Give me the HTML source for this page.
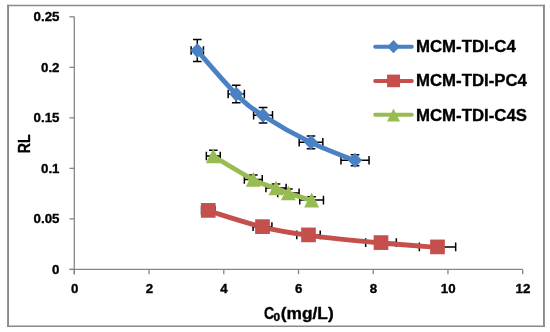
<!DOCTYPE html>
<html><head><meta charset="utf-8"><style>
html,body{margin:0;padding:0;background:#fff;}
body{width:550px;height:332px;overflow:hidden;font-family:"Liberation Sans",sans-serif;}
svg{display:block;}
svg{will-change:transform;}
text{stroke:#000;stroke-width:0.35px;stroke-linejoin:round;}
</style></head><body>
<svg width="550" height="332" viewBox="0 0 550 332">
<g stroke="#8a8a8a" fill="none"><path d="M8.05,4.8V327.1M543.95,4.8V327.1" stroke-width="1.9"/><path d="M7.1,5.55H544.9M7.1,326.35H544.9" stroke-width="1.5"/></g>
<g stroke="#868686" stroke-width="1.3" fill="none"><path d="M74.30,16.80V274.20" /><path d="M69.50,269.40H522.70" /><path d="M69.50,269.40H74.30"/><path d="M69.50,218.88H74.30"/><path d="M69.50,168.36H74.30"/><path d="M69.50,117.84H74.30"/><path d="M69.50,67.32H74.30"/><path d="M69.50,16.80H74.30"/><path d="M74.30,269.40V274.20"/><path d="M149.03,269.40V274.20"/><path d="M223.77,269.40V274.20"/><path d="M298.50,269.40V274.20"/><path d="M373.23,269.40V274.20"/><path d="M447.97,269.40V274.20"/><path d="M522.70,269.40V274.20"/></g>
<g font-family="Liberation Sans, sans-serif" font-weight="bold" font-size="13.3" fill="#000"><text x="59.5" y="273.90" text-anchor="end">0</text><text x="59.5" y="223.38" text-anchor="end">0.05</text><text x="59.5" y="172.86" text-anchor="end">0.1</text><text x="59.5" y="122.34" text-anchor="end">0.15</text><text x="59.5" y="71.82" text-anchor="end">0.2</text><text x="59.5" y="21.30" text-anchor="end">0.25</text><text x="74.60" y="293.4" text-anchor="middle">0</text><text x="149.33" y="293.4" text-anchor="middle">2</text><text x="224.07" y="293.4" text-anchor="middle">4</text><text x="298.80" y="293.4" text-anchor="middle">6</text><text x="373.53" y="293.4" text-anchor="middle">8</text><text x="448.27" y="293.4" text-anchor="middle">10</text><text x="523.00" y="293.4" text-anchor="middle">12</text></g>
<g font-family="Liberation Sans, sans-serif" font-weight="bold"><text x="264.0" y="319.3" font-size="16.2" textLength="10.2" lengthAdjust="spacingAndGlyphs">C</text><text x="273.6" y="320.6" font-size="10" textLength="6.6" lengthAdjust="spacingAndGlyphs">0</text><text x="280.8" y="319.3" font-size="16.2" textLength="52.9" lengthAdjust="spacingAndGlyphs">(mg/L)</text></g>
<text transform="translate(30.1,143.8) rotate(-90)" text-anchor="middle" font-family="Liberation Sans, sans-serif" font-weight="bold" font-size="16.4" textLength="18.8" lengthAdjust="spacingAndGlyphs">RL</text>
<g stroke="#000" stroke-width="1.5" fill="none"><path d="M191.15,50.55H203.45M191.15,46.25V54.85M203.45,46.25V54.85M197.30,39.61V61.49M193.00,39.61H201.60M193.00,61.49H201.60"/>
<path d="M228.15,94.05H244.35M228.15,89.75V98.35M244.35,89.75V98.35M236.25,85.28V102.82M231.95,85.28H240.55M231.95,102.82H240.55"/>
<path d="M253.61,115.30H272.49M253.61,111.00V119.60M272.49,111.00V119.60M263.05,107.59V123.00M258.75,107.59H267.35M258.75,123.00H267.35"/>
<path d="M299.17,142.30H322.83M299.17,138.00V146.60M322.83,138.00V146.60M311.00,135.95V148.66M306.70,135.95H315.30M306.70,148.66H315.30"/>
<path d="M340.96,160.25H369.04M340.96,155.95V164.55M369.04,155.95V164.55M355.00,154.79V165.71M350.70,154.79H359.30M350.70,165.71H359.30"/></g>
<path d="M197.30,50.55 C203.79,57.80 225.29,83.26 236.25,94.05 C247.21,104.84 250.59,107.26 263.05,115.30 C275.51,123.34 295.68,134.81 311.00,142.30 C326.32,149.79 347.67,157.26 355.00,160.25" fill="none" stroke="#4981C4" stroke-width="4.8" stroke-linejoin="round" stroke-linecap="round" transform="translate(0.2,0.4)"/>
<g fill="#4981C4"><path d="M197.30,43.15L204.40,50.55L197.30,57.95L190.20,50.55Z"/><path d="M236.25,86.65L243.35,94.05L236.25,101.45L229.15,94.05Z"/><path d="M263.05,107.90L270.15,115.30L263.05,122.70L255.95,115.30Z"/><path d="M311.00,134.90L318.10,142.30L311.00,149.70L303.90,142.30Z"/><path d="M355.00,152.85L362.10,160.25L355.00,167.65L347.90,160.25Z"/></g>
<g stroke="#000" stroke-width="1.5" fill="none"><path d="M201.55,210.40H214.95M201.55,206.10V214.70M214.95,206.10V214.70M208.25,207.45V213.35M203.95,207.45H212.55M203.95,213.35H212.55"/>
<path d="M253.09,226.65H271.91M253.09,222.35V230.95M271.91,222.35V230.95M262.50,224.51V228.79M258.20,224.51H266.80M258.20,228.79H266.80"/>
<path d="M296.79,234.90H320.21M296.79,230.60V239.20M320.21,230.60V239.20M308.50,233.18V236.62M304.20,233.18H312.80M304.20,236.62H312.80"/>
<path d="M365.67,242.60H396.33M365.67,238.30V246.90M396.33,238.30V246.90M381.00,241.26V243.94M376.70,241.26H385.30M376.70,243.94H385.30"/>
<path d="M419.34,246.90H455.66M419.34,242.60V251.20M455.66,242.60V251.20M437.50,245.78V248.03M433.20,245.78H441.80M433.20,248.03H441.80"/></g>
<path d="M208.25,210.40 C217.29,213.11 245.79,222.57 262.50,226.65 C279.21,230.73 288.75,232.24 308.50,234.90 C328.25,237.56 359.50,240.60 381.00,242.60 C402.50,244.60 428.08,246.18 437.50,246.90" fill="none" stroke="#C44F4C" stroke-width="4.8" stroke-linejoin="round" stroke-linecap="round" transform="translate(0.2,0.4)"/>
<g fill="#C44F4C"><rect x="200.90" y="203.05" width="14.70" height="14.70"/><rect x="255.15" y="219.30" width="14.70" height="14.70"/><rect x="301.15" y="227.55" width="14.70" height="14.70"/><rect x="373.65" y="235.25" width="14.70" height="14.70"/><rect x="430.15" y="239.55" width="14.70" height="14.70"/></g>
<g stroke="#000" stroke-width="1.5" fill="none"><path d="M206.35,156.00H220.25M206.35,151.70V160.30M220.25,151.70V160.30M213.30,150.33V161.67M209.00,150.33H217.60M209.00,161.67H217.60"/>
<path d="M244.35,179.40H262.25M244.35,175.10V183.70M262.25,175.10V183.70M253.30,174.90V183.90M249.00,174.90H257.60M249.00,183.90H257.60"/>
<path d="M265.92,188.00H286.08M265.92,183.70V192.30M286.08,183.70V192.30M276.00,183.93V192.07M271.70,183.93H280.30M271.70,192.07H280.30"/>
<path d="M277.69,192.90H299.10M277.69,188.60V197.20M299.10,188.60V197.20M288.40,189.08V196.72M284.10,189.08H292.70M284.10,196.72H292.70"/>
<path d="M299.74,200.10H323.47M299.74,195.80V204.40M323.47,195.80V204.40M311.60,196.63V203.56M307.30,196.63H315.90M307.30,203.56H315.90"/></g>
<path d="M213.30,156.00 C219.97,159.90 242.85,174.07 253.30,179.40 C263.75,184.73 270.15,185.75 276.00,188.00 C281.85,190.25 282.47,190.88 288.40,192.90 C294.33,194.92 307.73,198.90 311.60,200.10" fill="none" stroke="#98BB52" stroke-width="4.8" stroke-linejoin="round" stroke-linecap="round" transform="translate(0.2,0.4)"/>
<g fill="#98BB52"><path d="M213.30,148.50L220.80,163.30L205.80,163.30Z"/><path d="M253.30,171.90L260.80,186.70L245.80,186.70Z"/><path d="M276.00,180.50L283.50,195.30L268.50,195.30Z"/><path d="M288.40,185.40L295.90,200.20L280.90,200.20Z"/><path d="M311.60,192.60L319.10,207.40L304.10,207.40Z"/></g>
<path d="M375.2,46.70H411.8" stroke="#4981C4" stroke-width="4" stroke-linecap="round"/><g fill="#4981C4"><path d="M393.50,40.10L399.90,46.70L393.50,53.30L387.10,46.70Z"/></g><text x="416.0" y="52.40" font-family="Liberation Sans, sans-serif" font-weight="bold" font-size="16.8">MCM-TDI-C4</text><path d="M375.2,80.90H411.8" stroke="#C44F4C" stroke-width="4" stroke-linecap="round"/><g fill="#C44F4C"><rect x="387.1" y="74.60" width="12.9" height="12.6"/></g><text x="416.0" y="86.40" font-family="Liberation Sans, sans-serif" font-weight="bold" font-size="16.8">MCM-TDI-PC4</text><path d="M375.2,114.80H411.8" stroke="#98BB52" stroke-width="4" stroke-linecap="round"/><g fill="#98BB52"><path d="M393.50,108.60L400.00,121.40L387.00,121.40Z"/></g><text x="416.0" y="120.50" font-family="Liberation Sans, sans-serif" font-weight="bold" font-size="16.8">MCM-TDI-C4S</text>
</svg>
</body></html>
